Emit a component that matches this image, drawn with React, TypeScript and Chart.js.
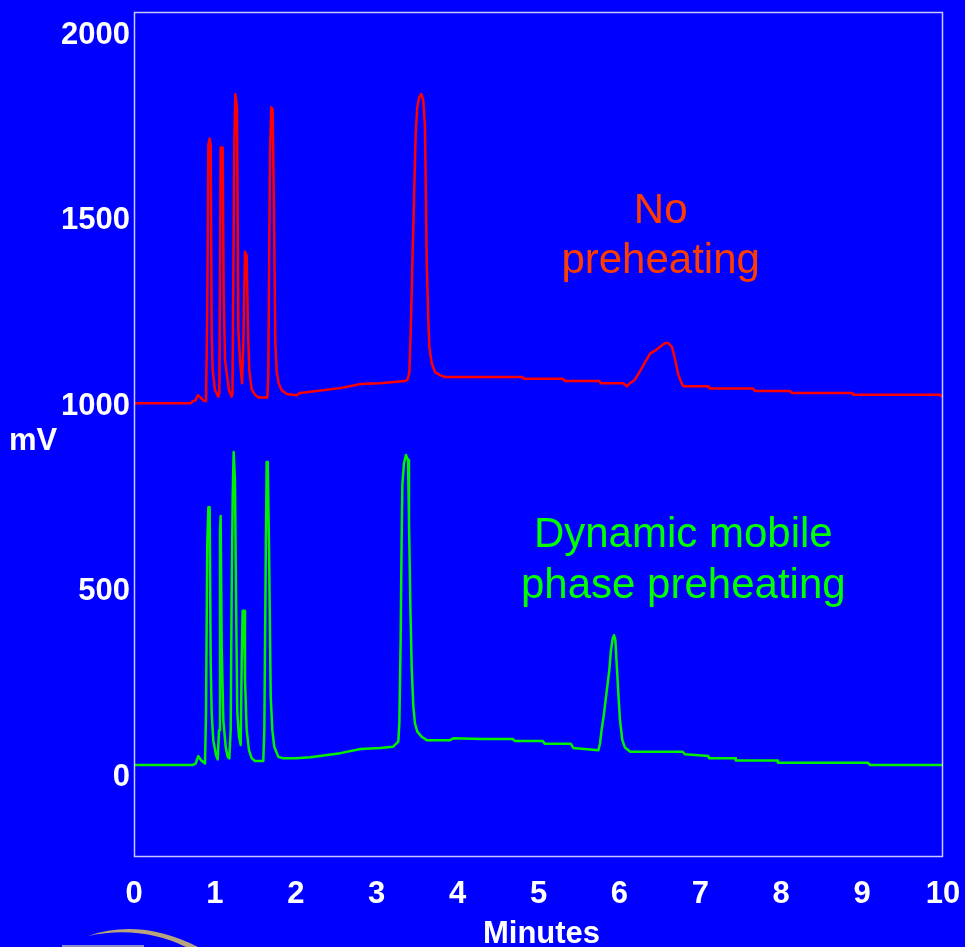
import React, { useEffect, useRef } from "react";
import { Chart, registerables } from "chart.js";

Chart.register(...registerables);

// Retention time (minutes) and signal (mV) for the trace without preheating
const redTimes = [
  0, 0.70, 0.72, 0.76, 0.79, 0.83, 0.87, 0.89,
  0.906, 0.919, 0.935, 0.948, 0.96, 0.972, 1.001, 1.042,
  1.055, 1.071, 1.096, 1.108, 1.125, 1.146, 1.174, 1.207,
  1.217, 1.24, 1.252, 1.273, 1.29, 1.31, 1.335,
  1.35, 1.372, 1.393, 1.409, 1.425, 1.454, 1.496, 1.537, 1.648,
  1.66, 1.681, 1.697, 1.714, 1.731, 1.747, 1.764, 1.788, 1.825, 1.887, 2.011,
  2.05, 2.55, 2.8, 3.04, 3.35,
  3.379, 3.403, 3.42, 3.441, 3.465, 3.482, 3.502, 3.527, 3.552, 3.576, 3.597, 3.618, 3.638, 3.651, 3.68, 3.721, 3.782, 3.844,
  4.8, 4.82, 5.3, 5.33, 5.75, 5.77, 6.05,
  6.09, 6.13, 6.19, 6.25, 6.32, 6.38, 6.44, 6.5, 6.56, 6.6, 6.65, 6.69, 6.73, 6.78, 6.8,
  7.1, 7.12, 7.65, 7.68, 8.11, 8.13, 8.88, 8.89, 9.96, 10,
];
const redValues = [
  1002, 1002, 1007, 1010, 1024, 1016, 1008, 1008,
  1253, 1700, 1716, 1700, 1199, 1092, 1038, 1020,
  1030, 1692, 1692, 1300, 1119, 1083, 1038, 1020,
  1030, 1700, 1836, 1800, 1200, 1119, 1056,
  1150, 1411, 1400, 1199, 1092, 1040, 1025, 1018, 1018,
  1078, 1676, 1800, 1795, 1500, 1164, 1087, 1056, 1038, 1027, 1024,
  1030, 1043, 1054, 1056, 1062,
  1065, 1083, 1191, 1380, 1585, 1730, 1801, 1828, 1836, 1819, 1747, 1388, 1226, 1154, 1110, 1086, 1078, 1073,
  1073, 1068, 1068, 1062, 1062, 1056, 1056,
  1048, 1056, 1065, 1087, 1114, 1136, 1144, 1154, 1164, 1165, 1154, 1119, 1078, 1051, 1048,
  1048, 1042, 1042, 1035, 1035, 1030, 1030, 1025, 1025, 1019,
];

// Retention time (minutes) and signal (mV) for the trace with dynamic mobile phase preheating
const greenTimes = [
  0, 0.72, 0.76, 0.795, 0.83, 0.878,
  0.89, 0.906, 0.919, 0.935, 0.948, 0.96, 0.98, 1.014, 1.034,
  1.051, 1.063, 1.071, 1.084, 1.104, 1.133, 1.158, 1.178,
  1.195, 1.207, 1.22, 1.232, 1.248, 1.261, 1.277, 1.298, 1.319,
  1.331, 1.343, 1.36, 1.372, 1.393, 1.421, 1.455, 1.496, 1.598,
  1.611, 1.628, 1.64, 1.653, 1.669, 1.69, 1.71, 1.734, 1.784, 1.846, 2.0,
  2.18, 2.55, 2.8, 3.04, 3.2, 3.267,
  3.28, 3.296, 3.308, 3.317, 3.337, 3.362, 3.387, 3.399, 3.416, 3.432, 3.453, 3.473, 3.502, 3.556, 3.618, 3.906, 3.947,
  4.3, 4.68, 4.71, 5.05, 5.08, 5.4, 5.43, 5.74,
  5.76, 5.78, 5.81, 5.84, 5.875, 5.896, 5.917, 5.933, 5.95, 5.966, 5.987, 6.007, 6.036, 6.069, 6.11, 6.13,
  6.78, 6.81, 7.1, 7.11, 7.43, 7.44, 7.95, 7.96, 9.07, 9.1, 10,
];
const greenValues = [
  27, 27, 30, 51, 40, 31,
  167, 625, 722, 722, 302, 167, 94, 54, 42,
  121, 660, 698, 346, 148, 76, 49, 45,
  121, 481, 750, 871, 795, 481, 167, 103, 81,
  301, 443, 443, 256, 121, 67, 45, 38, 38,
  121, 570, 844, 844, 615, 211, 121, 76, 49, 45, 45,
  48, 59, 70, 73, 76, 90,
  140, 364, 633, 782, 840, 863, 849, 687, 454, 292, 184, 139, 117, 103, 94, 94, 99,
  97, 97, 92, 92, 84, 84, 73, 67,
  85, 121, 166, 220, 283, 337, 368, 377, 364, 301, 220, 148, 94, 74, 67, 63,
  63, 56, 51, 45, 45, 39, 39, 33, 33, 27, 27,
];

const xTickValues = [0, 1, 2, 3, 4, 5, 6, 7, 8, 9, 10];
const yTickValues = [0, 500, 1000, 1500, 2000];

const redLabelLines = ["No", "preheating"];
const greenLabelLines = ["Dynamic mobile", "phase preheating"];
const xAxisTitle = "Minutes";
const yAxisTitle = "mV";

const FONT = "'Liberation Sans', Arial, Helvetica, sans-serif";

const decorPlugin = {
  id: "decor",
  beforeDraw(chart: any) {
    const { ctx, width, height } = chart;
    ctx.save();
    ctx.fillStyle = "#0000ff";
    ctx.fillRect(0, 0, width, height);
    ctx.restore();
  },
  afterDraw(chart: any) {
    const { ctx, chartArea } = chart;
    ctx.save();
    // plot frame
    ctx.strokeStyle = "#c8c8ff";
    ctx.lineWidth = 1.5;
    ctx.strokeRect(
      chartArea.left + 0.5,
      chartArea.top + 0.5,
      chartArea.right - chartArea.left - 1,
      chartArea.bottom - chartArea.top - 1
    );

    // annotation labels
    ctx.font = `42px ${FONT}`;
    ctx.textAlign = "center";
    ctx.textBaseline = "middle";
    ctx.fillStyle = "#ff3c00";
    const xs = chart.scales.x;
    const ys = chart.scales.y;
    const rx = xs.getPixelForValue(6.51);
    ctx.fillText(redLabelLines[0], rx, ys.getPixelForValue(1519));
    ctx.fillText(redLabelLines[1], rx, ys.getPixelForValue(1384));
    ctx.fillStyle = "#00ff00";
    const gx = xs.getPixelForValue(6.79);
    ctx.fillText(greenLabelLines[0], gx, ys.getPixelForValue(646));
    ctx.fillText(greenLabelLines[1], gx, ys.getPixelForValue(509));

    // axis titles
    ctx.fillStyle = "#ffffff";
    ctx.font = `bold 31px ${FONT}`;
    ctx.fillText(xAxisTitle, (chartArea.left + chartArea.right) / 2 + 3, 934);
    ctx.fillText(yAxisTitle, 33, 441);

    // logo swoosh
    ctx.fillStyle = "#b8a47e";
    ctx.beginPath();
    ctx.moveTo(88, 936);
    ctx.quadraticCurveTo(140, 918, 198, 947);
    ctx.lineTo(186, 947);
    ctx.quadraticCurveTo(140, 925, 88, 936);
    ctx.closePath();
    ctx.fill();
    ctx.fillStyle = "#8a8ac8";
    ctx.fillRect(62, 945, 82, 2);
    ctx.restore();
  },
};

export default function App() {
  const canvasRef = useRef<HTMLCanvasElement | null>(null);

  useEffect(() => {
    const canvas = canvasRef.current;
    if (!canvas) return;
    const redData = redTimes.map((t, i) => ({ x: t, y: redValues[i] }));
    const greenData = greenTimes.map((t, i) => ({ x: t, y: greenValues[i] }));

    const chart = new Chart(canvas, {
      type: "line",
      data: {
        datasets: [
          {
            label: "No preheating",
            data: redData,
            borderColor: "#ff0000",
            borderWidth: 2.5,
            borderJoinStyle: "round",
            pointRadius: 0,
            tension: 0,
            fill: false,
          },
          {
            label: "Dynamic mobile phase preheating",
            data: greenData,
            borderColor: "#00f000",
            borderWidth: 2.5,
            borderJoinStyle: "round",
            pointRadius: 0,
            tension: 0,
            fill: false,
          },
        ],
      },
      options: {
        animation: false,
        responsive: false,
        events: [],
        layout: { padding: { left: 0, top: 12, right: 22, bottom: 0 } },
        plugins: {
          legend: { display: false },
          tooltip: { enabled: false },
          title: { display: false },
        },
        scales: {
          x: {
            type: "linear",
            min: 0,
            max: 10,
            grid: { display: false, drawTicks: false },
            border: { display: false },
            afterBuildTicks: (scale: any) => {
              scale.ticks = xTickValues.map((v) => ({ value: v }));
            },
            afterFit: (scale: any) => {
              scale.height = 90;
              scale.paddingLeft = 0;
              scale.paddingRight = 0;
            },
            ticks: {
              color: "#ffffff",
              padding: 19,
              maxRotation: 0,
              autoSkip: false,
              font: { family: FONT, size: 31, weight: "bold" },
              callback: (v: any) => String(v),
            },
          },
          y: {
            type: "linear",
            min: -221,
            max: 2057,
            grid: { display: false, drawTicks: false },
            border: { display: false },
            afterBuildTicks: (scale: any) => {
              scale.ticks = yTickValues.map((v) => ({ value: v }));
            },
            afterFit: (scale: any) => {
              scale.width = 134;
              scale.paddingTop = 0;
              scale.paddingBottom = 0;
            },
            ticks: {
              color: "#ffffff",
              padding: 4,
              labelOffset: 2,
              autoSkip: false,
              font: { family: FONT, size: 31, weight: "bold" },
              callback: (v: any) => String(v),
            },
          },
        },
      },
      plugins: [decorPlugin],
    } as any);

    return () => {
      chart.destroy();
    };
  }, []);

  return (
    <div style={{ position: "absolute", left: 0, top: 0, width: 965, height: 947 }}>
      <canvas ref={canvasRef} width={965} height={947} style={{ display: "block" }} />
    </div>
  );
}
